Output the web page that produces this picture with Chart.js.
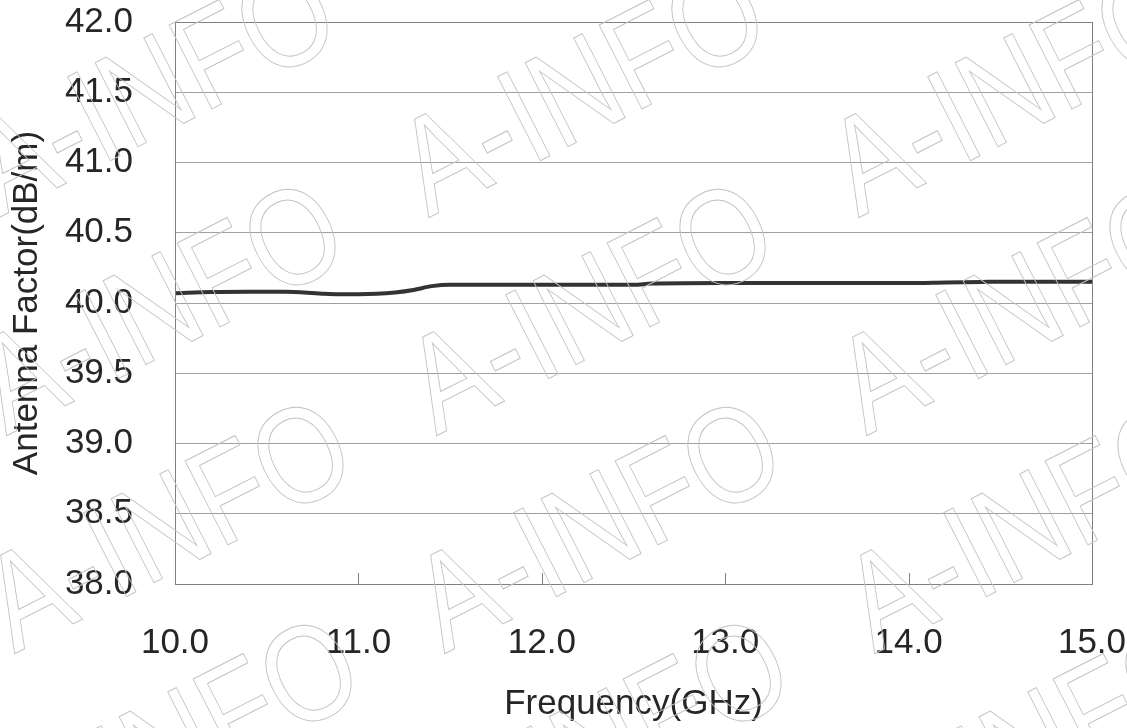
<!DOCTYPE html>
<html>
<head>
<meta charset="utf-8">
<script src="https://cdn.jsdelivr.net/npm/chart.js@4.4.0/dist/chart.umd.min.js"></script>
<style>
  html, body { margin: 0; padding: 0; background: #fff; }
  #wrap { width: 1127px; height: 728px; }
</style>
</head>
<body>
<div id="wrap"><canvas id="afChart" width="1127" height="728"></canvas></div>
<script>
// DATA
const freqGHz = [10.0, 10.2, 10.4, 10.6, 10.8, 10.9, 11.0, 11.1, 11.2, 11.3, 11.4, 11.5, 12.0, 12.5, 12.6, 13.0, 13.5, 14.0, 14.2, 14.4, 14.5, 15.0];
const antennaFactor = [40.07, 40.078, 40.08, 40.08, 40.066, 40.062, 40.062, 40.065, 40.075, 40.093, 40.12, 40.13, 40.13, 40.13, 40.138, 40.142, 40.142, 40.142, 40.146, 40.15, 40.152, 40.152];
const xTicks = [10, 11, 12, 13, 14, 15];
const yTicks = [38.0, 38.5, 39.0, 39.5, 40.0, 40.5, 41.0, 41.5, 42.0];

const FONT = "'Liberation Sans', Arial, sans-serif";
const TEXT = '#262626';

// frame + inner tick marks on the x axis
const framePlugin = {
  id: 'frame',
  afterDatasetsDraw(chart) {
    const {ctx, chartArea: a, scales: {x}} = chart;
    ctx.save();
    ctx.strokeStyle = '#808080';
    ctx.lineWidth = 1;
    ctx.beginPath();
    xTicks.slice(1, -1).forEach(v => {
      const px = Math.round(x.getPixelForValue(v)) + 0.5;
      ctx.moveTo(px, a.bottom);
      ctx.lineTo(px, a.bottom - 11);
    });
    ctx.stroke();
    ctx.strokeRect(Math.round(a.left) + 0.5, Math.round(a.top) + 0.5, Math.round(a.right - a.left), Math.round(a.bottom - a.top));
    ctx.restore();
  }
};

// outlined "A-INFO" watermark
const watermarkPlugin = {
  id: 'watermark',
  afterDraw(chart) {
    const ctx = chart.ctx;
    ctx.save();
    ctx.strokeStyle = '#c4c4c4';
    ctx.lineWidth = 1;
    ctx.font = "137px " + FONT;
    ctx.textBaseline = 'middle';
    ctx.textAlign = 'left';
    for (let r = -2; r <= 4; r++) {
      for (let c = -1; c <= 3; c++) {
        const ax = c * 430 + r * 8 + 15;
        const ay = r * 218 + 167;
        ctx.save();
        ctx.translate(ax, ay);
        ctx.rotate(-27 * Math.PI / 180);
        ctx.scale(0.84, 1);
        ctx.strokeText('A-INFO', -45, 0);
        ctx.restore();
      }
    }
    ctx.restore();
  }
};

new Chart(document.getElementById('afChart'), {
  type: 'line',
  data: {
    datasets: [{
      data: freqGHz.map((f, i) => ({x: f, y: antennaFactor[i]})),
      borderColor: '#333333',
      borderWidth: 4,
      pointRadius: 0,
      fill: false,
      cubicInterpolationMode: 'monotone'
    }]
  },
  options: {
    responsive: false,
    animation: false,
    devicePixelRatio: 1,
    layout: { padding: { top: 22, right: 35, left: 0, bottom: 0 } },
    plugins: { legend: { display: false }, tooltip: { enabled: false } },
    scales: {
      x: {
        type: 'linear',
        min: 10, max: 15,
        afterFit: s => { s.height = 144; s.paddingLeft = 0; s.paddingRight = 0; },
        afterBuildTicks: s => { s.ticks = xTicks.map(v => ({value: v})); },
        grid: { display: false, drawTicks: false },
        border: { display: false },
        ticks: {
          padding: 38,
          color: TEXT,
          font: { family: FONT, size: 35 },
          maxRotation: 0,
          callback: v => Number(v).toFixed(1)
        },
        title: {
          display: true,
          text: 'Frequency(GHz)',
          color: TEXT,
          font: { family: FONT, size: 35 },
          padding: { top: 0, bottom: 3 }
        }
      },
      y: {
        min: 38, max: 42,
        afterFit: s => { s.width = 175; s.paddingTop = 0; s.paddingBottom = 0; },
        afterBuildTicks: s => { s.ticks = yTicks.map(v => ({value: v})); },
        grid: { color: '#a0a0a0', lineWidth: 1, drawTicks: false },
        border: { display: false },
        ticks: {
          padding: 42,
          color: TEXT,
          font: { family: FONT, size: 35 },
          callback: v => Number(v).toFixed(1)
        },
        title: {
          display: true,
          text: 'Antenna Factor(dB/m)',
          color: TEXT,
          font: { family: FONT, size: 35 },
          padding: { top: 6, bottom: 0 }
        }
      }
    }
  },
  plugins: [framePlugin, watermarkPlugin]
});
</script>
</body>
</html>
